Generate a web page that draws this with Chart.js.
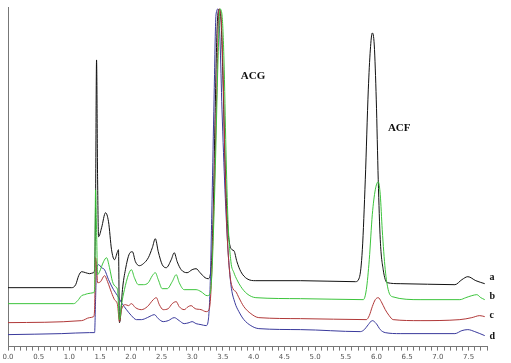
<!DOCTYPE html>
<html>
<head>
<meta charset="utf-8">
<title>Chromatogram</title>
<script src="https://cdn.jsdelivr.net/npm/chart.js@4/dist/chart.umd.min.js"></script>
<style>
  html, body { margin: 0; padding: 0; background: #fff; }
  canvas { display: block; }
</style>
</head>
<body>
<canvas id="chrom" width="511" height="363"></canvas>
<script>
// retention time (min) and detector signal for traces a-d
const timeA = [0, 1.037, 1.102, 1.151, 1.199, 1.264, 1.329, 1.394, 1.410, 1.426, 1.442, 1.459, 1.475, 1.524, 1.588, 1.637, 1.686, 1.734, 1.783, 1.799, 1.815, 1.831, 1.864, 1.912, 1.977, 2.026, 2.075, 2.139, 2.204, 2.285, 2.350, 2.399, 2.447, 2.512, 2.577, 2.658, 2.707, 2.755, 2.820, 2.917, 2.998, 3.063, 3.128, 3.209, 3.258, 3.306, 3.339, 3.371, 3.404, 3.436, 3.468, 3.501, 3.533, 3.566, 3.598, 3.647, 3.679, 3.728, 3.792, 3.890, 4.036, 4.765, 5.656, 5.721, 5.770, 5.818, 5.867, 5.900, 5.932, 5.964, 5.997, 6.029, 6.062, 6.110, 6.175, 6.386, 7.277, 7.391, 7.488, 7.618, 7.763];
const signalA = [59, 59, 62, 71, 75, 74, 73, 74, 77, 147, 287, 167, 110, 119, 134, 125, 97, 87, 95, 97, 24, 29, 57, 77, 93, 95, 85, 81, 83, 89, 99, 108, 95, 82, 79, 87, 94, 85, 77, 74, 77, 78, 74, 69, 68, 77, 127, 227, 317, 338, 327, 267, 187, 132, 107, 97, 96, 85, 75, 68, 66, 66, 65, 69, 97, 167, 257, 297, 314, 302, 247, 167, 107, 77, 64, 63, 62, 67, 70, 66, 63];

const timeB = [0, 1.070, 1.135, 1.199, 1.248, 1.297, 1.394, 1.410, 1.426, 1.442, 1.459, 1.491, 1.556, 1.605, 1.653, 1.702, 1.751, 1.783, 1.815, 1.848, 1.896, 1.961, 2.010, 2.058, 2.123, 2.204, 2.285, 2.350, 2.399, 2.447, 2.512, 2.593, 2.674, 2.739, 2.788, 2.869, 3.063, 3.144, 3.241, 3.290, 3.323, 3.371, 3.420, 3.452, 3.485, 3.517, 3.549, 3.582, 3.630, 3.679, 3.728, 3.792, 3.890, 4.036, 4.765, 5.786, 5.835, 5.883, 5.932, 5.981, 6.029, 6.062, 6.094, 6.143, 6.191, 6.256, 6.710, 7.358, 7.455, 7.553, 7.634, 7.699, 7.763];
const signalB = [43, 43, 46, 51, 52, 53, 54, 57, 157, 117, 72, 75, 85, 89, 79, 65, 60, 57, 27, 42, 57, 72, 77, 69, 62, 62, 64, 71, 74, 67, 58, 58, 65, 72, 64, 57, 57, 55, 51, 53, 77, 167, 287, 338, 332, 287, 197, 127, 85, 74, 67, 60, 53, 49, 48, 47, 57, 87, 132, 157, 165, 152, 117, 77, 57, 50, 47, 47, 49, 51, 52, 49, 47];

const timeC = [0, 1.199, 1.329, 1.394, 1.410, 1.426, 1.442, 1.459, 1.507, 1.572, 1.621, 1.686, 1.734, 1.783, 1.815, 1.848, 1.912, 1.961, 2.010, 2.075, 2.172, 2.269, 2.366, 2.415, 2.464, 2.528, 2.609, 2.674, 2.739, 2.788, 2.869, 2.934, 2.982, 3.047, 3.144, 3.225, 3.274, 3.306, 3.355, 3.404, 3.436, 3.468, 3.501, 3.533, 3.566, 3.614, 3.663, 3.711, 3.760, 3.841, 3.955, 4.084, 4.765, 5.835, 5.883, 5.932, 5.981, 6.029, 6.078, 6.143, 6.207, 6.272, 6.710, 7.358, 7.553, 7.682, 7.763];
const signalC = [24, 26, 29, 30, 37, 89, 82, 64, 65, 71, 65, 54, 47, 42, 25, 37, 42, 41, 43, 39, 37, 40, 47, 49, 42, 37, 38, 43, 45, 40, 37, 40, 41, 38, 37, 35, 37, 57, 147, 267, 338, 332, 277, 187, 117, 72, 58, 55, 49, 40, 33, 29, 28, 27, 31, 40, 47, 49, 45, 37, 31, 27, 26, 27, 29, 31, 30];

const timeD = [0, 0.875, 1.329, 1.410, 1.426, 1.442, 1.475, 1.524, 1.572, 1.637, 1.718, 1.783, 1.848, 1.929, 2.010, 2.091, 2.172, 2.269, 2.334, 2.383, 2.447, 2.528, 2.609, 2.707, 2.788, 2.869, 2.950, 2.998, 3.063, 3.144, 3.225, 3.258, 3.290, 3.323, 3.355, 3.387, 3.420, 3.452, 3.485, 3.533, 3.582, 3.630, 3.695, 3.760, 3.841, 3.955, 4.084, 4.765, 5.737, 5.802, 5.867, 5.932, 5.997, 6.062, 6.143, 6.386, 7.277, 7.391, 7.488, 7.601, 7.763];
const signalD = [12, 13, 14, 14, 47, 79, 82, 79, 77, 67, 57, 51, 44, 37, 31, 27, 27, 29, 31, 32, 28, 25, 26, 29, 26, 23, 24, 25, 23, 22, 21, 25, 57, 147, 247, 332, 338, 307, 237, 157, 97, 62, 44, 35, 27, 21, 18, 17, 15, 17, 22, 26, 23, 17, 14, 13, 13, 16, 17, 15, 11];

const traceNames = ['a', 'b', 'c', 'd'];
const traceColors = ['#111111', '#3cc43c', '#b03838', '#3a3a9c'];
// label anchors: [time, signal]
const traceLabelPos = [[7.84, 69], [7.84, 50], [7.84, 31], [7.84, 10]];
const peakNames = ['ACG', 'ACF'];
const peakLabelPos = [[3.99, 271], [6.37, 219]];

function toPoints(times, values) {
    return times.map((t, i) => ({ x: t, y: values[i] }));
}

const traces = [
    toPoints(timeA, signalA),
    toPoints(timeB, signalB),
    toPoints(timeC, signalC),
    toPoints(timeD, signalD)
];

// text labels for traces and peaks
const labelPlugin = {
    id: 'labels',
    afterDatasetsDraw(chart) {
        const { ctx, scales: { x, y } } = chart;
        ctx.save();
        ctx.fillStyle = '#111';
        ctx.textBaseline = 'middle';
        ctx.textAlign = 'left';
        ctx.font = 'bold 10px "Liberation Serif", serif';
        traceLabelPos.forEach((p, i) => {
            ctx.fillText(traceNames[i], x.getPixelForValue(p[0]), y.getPixelForValue(p[1]));
        });
        ctx.textAlign = 'center';
        ctx.font = 'bold 11px "Liberation Serif", serif';
        peakLabelPos.forEach((p, i) => {
            ctx.fillText(peakNames[i], x.getPixelForValue(p[0]), y.getPixelForValue(p[1]));
        });
        ctx.restore();
    }
};

new Chart(document.getElementById('chrom'), {
    type: 'line',
    data: {
        datasets: traces.map((pts, i) => ({
            label: traceNames[i],
            data: pts,
            borderColor: traceColors[i],
            borderWidth: 1,
            pointRadius: 0,
            fill: false,
            tension: 0.3,
            cubicInterpolationMode: 'monotone',
            order: i === 0 ? 1 : 0
        }))
    },
    options: {
        responsive: false,
        animation: false,
        layout: { padding: { left: 0, right: 24, top: 7, bottom: 0 } },
        plugins: { legend: { display: false }, tooltip: { enabled: false } },
        scales: {
            x: {
                type: 'linear',
                min: 0,
                max: 7.8,
                grid: { drawOnChartArea: false, drawTicks: true, tickLength: 4, color: '#777' },
                border: { color: '#777', width: 1 },
                ticks: {
                    stepSize: 0.1,
                    autoSkip: false,
                    maxRotation: 0,
                    padding: 2,
                    color: '#555',
                    font: { size: 7, family: 'DejaVu Sans' },
                    callback: v => (Math.round(v * 10) % 5 === 0 ? v.toFixed(1) : '')
                }
            },
            y: {
                min: 0,
                max: 340,
                grid: { display: false },
                border: { color: '#777', width: 1 },
                ticks: { display: false }
            }
        }
    },
    plugins: [labelPlugin]
});
</script>
</body>
</html>
